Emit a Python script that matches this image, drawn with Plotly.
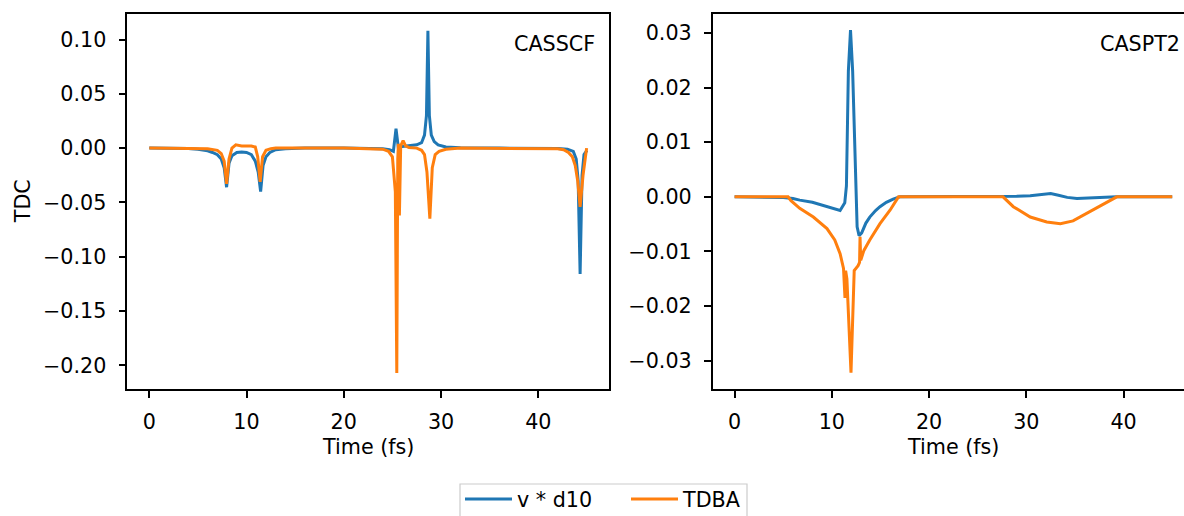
import plotly.graph_objects as go

# ---------------- data ----------------
casscf_t_vd = [0, 2, 4, 5, 6, 6.5, 7, 7.4, 7.7, 7.95, 8.2, 8.5, 9, 9.5, 10, 10.5, 10.9, 11.2,
               11.45, 11.7, 12, 12.4, 13, 14, 16, 20, 23, 24, 24.7, 25.1, 25.37, 25.6, 26,
               26.5, 27, 27.5, 28, 28.3, 28.5, 28.65, 28.8, 29.0, 29.3, 29.7, 30.5, 32, 36,
               40, 42, 43, 43.6, 43.9, 44.1, 44.3, 44.5, 44.7, 45]
casscf_vd = [0, 0, -0.0003, -0.001, -0.0025, -0.004, -0.006, -0.010, -0.018, -0.036, -0.014,
             -0.007, -0.004, -0.0035, -0.004, -0.006, -0.012, -0.022, -0.040, -0.016, -0.008,
             -0.004, -0.0015, -0.0005, 0, 0, 0, -0.0005, -0.0015, -0.003, 0.018, 0.001, 0.0015,
             0.002, 0.003, 0.003, 0.005, 0.012, 0.030, 0.108, 0.030, 0.012, 0.006, 0.003,
             0.001, 0.0003, 0, 0, -0.0003, -0.001, -0.003, -0.010, -0.030, -0.116, -0.025,
             -0.006, -0.002]

casscf_t_tdba = [0, 4, 6, 7, 7.4, 7.7, 7.95, 8.2, 8.5, 8.9, 9.5, 10.5, 10.9, 11.15, 11.4,
                 11.65, 12, 12.5, 13, 20, 23, 24, 24.6, 25.0, 25.3, 25.45, 25.55, 25.62, 25.72,
                 25.85, 26.1, 26.35, 26.7, 27.5, 28, 28.3, 28.55, 28.85, 29.1, 29.4, 29.8,
                 30.5, 32, 40, 42, 42.6, 43.1, 43.5, 43.8, 44.05, 44.3, 44.6, 44.97]
casscf_tdba = [0, 0, -0.0005, -0.002, -0.005, -0.012, -0.033, -0.010, 0.0, 0.003, 0.002,
               0.002, 0.001, -0.008, -0.031, -0.008, -0.002, -0.0005, 0, 0, -0.0003, -0.001,
               -0.003, -0.008, -0.040, -0.207, -0.010, 0.004, -0.062, 0.002, 0.007, 0.002,
               0.0005, 0, -0.002, -0.006, -0.022, -0.065, -0.018, -0.006, -0.003, -0.001, 0,
               0, -0.0005, -0.0015, -0.004, -0.008, -0.016, -0.030, -0.054, -0.025, 0.0]

caspt2_t_vd = [0, 4, 5, 6, 6.7, 8, 8.8, 9.8, 10.5, 10.85, 11.33, 11.5, 11.7, 11.92, 12.14,
               12.37, 12.6, 12.8, 13.07, 13.5, 13.9, 14.5, 14.95, 15.6, 16.3, 17, 27.6, 29,
               30.4, 31.5, 32.5, 33.3, 34.2, 35.2, 36.5, 38, 39.3, 45]
caspt2_vd = [0, 0, -0.0001, -0.0003, -0.0006, -0.001, -0.0014, -0.0019, -0.0023, -0.0025,
             -0.0011, 0.002, 0.023, 0.0305, 0.023, 0.008, -0.0055, -0.0071, -0.0066, -0.0048,
             -0.0037, -0.0025, -0.0018, -0.001, -0.0004, 0, 0, 0.0001, 0.0002, 0.0004, 0.0006,
             0.0003, -0.0001, -0.0003, -0.0002, -0.0001, 0, 0]

caspt2_t_tdba = [0, 5.5, 5.8, 6.7, 8.1, 9.5, 10.3, 10.85, 11.2, 11.35, 11.42, 11.55, 11.97,
                 12.3, 12.7, 12.85, 12.9, 12.97, 13.3, 13.9, 14.95, 16, 16.85, 27.6, 28.66,
                 30.4, 32.1, 33.5, 34.8, 36.5, 38.3, 39.3, 45]
caspt2_tdba = [0, 0, -0.0007, -0.0021, -0.0037, -0.0058, -0.0079, -0.0104, -0.0131, -0.0185,
               -0.0135, -0.0150, -0.0322, -0.0135, -0.0126, -0.0120, -0.0073, -0.0116, -0.0098,
               -0.0079, -0.0049, -0.0024, 0, 0, -0.0018, -0.0037, -0.0046, -0.0049, -0.0044,
               -0.0027, -0.0009, 0, 0]

series_names = ["v * d10", "TDBA"]
panel_labels = ["CASSCF", "CASPT2"]
x_title = "Time (fs)"
y_title = "TDC"

x_ticks = [0, 10, 20, 30, 40]
x_ticktext = ["0", "10", "20", "30", "40"]
y1_ticks = [-0.20, -0.15, -0.10, -0.05, 0.0, 0.05, 0.10]
y1_ticktext = ["\u22120.20", "\u22120.15", "\u22120.10", "\u22120.05", "0.00", "0.05", "0.10"]
y2_ticks = [-0.03, -0.02, -0.01, 0.0, 0.01, 0.02, 0.03]
y2_ticktext = ["\u22120.03", "\u22120.02", "\u22120.01", "0.00", "0.01", "0.02", "0.03"]

# ---------------- styling ----------------
W, H = 1184, 516
FONT = "DejaVu Sans"
FS = 20.7
BLUE = "#1f77b4"
ORANGE = "#ff7f0e"
LW = 3

fig = go.Figure()
fig.add_trace(go.Scatter(x=casscf_t_vd, y=casscf_vd, mode="lines", name=series_names[0],
                         line=dict(color=BLUE, width=LW), xaxis="x", yaxis="y"))
fig.add_trace(go.Scatter(x=casscf_t_tdba, y=casscf_tdba, mode="lines", name=series_names[1],
                         line=dict(color=ORANGE, width=LW), xaxis="x", yaxis="y"))
fig.add_trace(go.Scatter(x=caspt2_t_vd, y=caspt2_vd, mode="lines", name=series_names[0],
                         line=dict(color=BLUE, width=LW), xaxis="x2", yaxis="y2",
                         showlegend=False))
fig.add_trace(go.Scatter(x=caspt2_t_tdba, y=caspt2_tdba, mode="lines", name=series_names[1],
                         line=dict(color=ORANGE, width=LW), xaxis="x2", yaxis="y2",
                         showlegend=False))

ydom = [1 - 389.3 / H, 1 - 14 / H]
common = dict(showgrid=False, zeroline=False, showline=True, linecolor="#000", linewidth=1.6,
              ticks="outside", ticklen=7, tickwidth=1.6, tickcolor="#000",
              tickfont=dict(family=FONT, size=FS, color="#000"))

fig.update_layout(
    width=W, height=H,
    margin=dict(l=0, r=0, t=0, b=0, autoexpand=False),
    paper_bgcolor="white", plot_bgcolor="white",
    font=dict(family=FONT, size=FS, color="#000"),
    xaxis=dict(domain=[127.3 / W, 608.7 / W], range=[-2.26, 47.24], anchor="y",
               tickvals=x_ticks, ticktext=x_ticktext, mirror=True, ticklabelstandoff=6, **common),
    yaxis=dict(domain=ydom, range=[-0.2221, 0.1235], anchor="x",
               tickvals=y1_ticks, ticktext=y1_ticktext, mirror=True, ticklabelstandoff=8, **common),
    xaxis2=dict(domain=[712.7 / W, 1.0], range=[-2.25, 46.21], anchor="y2",
                tickvals=x_ticks, ticktext=x_ticktext, mirror=True, ticklabelstandoff=6, **common),
    yaxis2=dict(domain=ydom, range=[-0.03522, 0.03346], anchor="x2",
                tickvals=y2_ticks, ticktext=y2_ticktext, mirror=False, ticklabelstandoff=8, **common),
    showlegend=True,
    legend=dict(orientation="h", x=460 / W, xanchor="left", y=1 - 479 / H, yanchor="top",
                itemwidth=47, entrywidth=104, entrywidthmode="pixels",
                borderwidth=0, bgcolor="rgba(0,0,0,0)",
                font=dict(family=FONT, size=FS, color="#000")),
    shapes=[dict(type="rect", xref="paper", yref="paper", x0=460 / W, x1=747 / W,
                 y0=-0.05, y1=1 - 484 / H, line=dict(color="#cccccc", width=1.2),
                 fillcolor="rgba(255,255,255,0.8)", layer="above")],
)

ann = [
    dict(text=panel_labels[0], xref="x domain", yref="y domain", x=0.80, y=0.92,
         xanchor="left", yanchor="middle", showarrow=False),
    dict(text=panel_labels[1], xref="x2 domain", yref="y2 domain", x=385.1 / (W - 712.7),
         y=0.92, xanchor="left", yanchor="middle", showarrow=False),
    dict(text=x_title, xref="x domain", yref="paper", x=0.5, y=1 - 446.7 / H,
         xanchor="center", yanchor="middle", showarrow=False),
    dict(text=x_title, xref="paper", yref="paper", x=(712.7 + 481.4 / 2) / W, y=1 - 446.7 / H,
         xanchor="center", yanchor="middle", showarrow=False),
    dict(text=y_title, xref="paper", yref="paper", x=22.7 / W, y=1 - 201.5 / H,
         xanchor="center", yanchor="middle", textangle=-90, showarrow=False),
]
for a in ann:
    a["font"] = dict(family=FONT, size=FS, color="#000")
fig.update_layout(annotations=ann)

fig.write_html("out.html")
